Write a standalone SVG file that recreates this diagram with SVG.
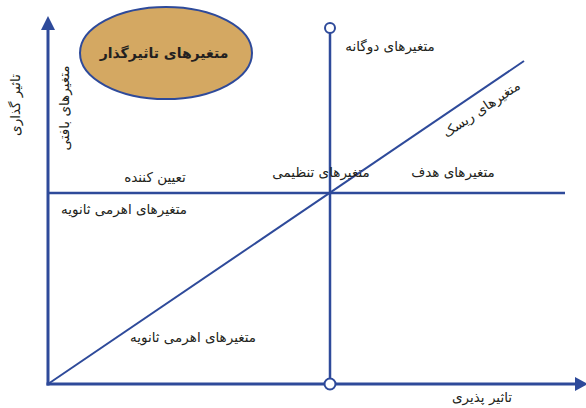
<svg xmlns="http://www.w3.org/2000/svg" width="586" height="408" viewBox="0 0 586 408">
<style>
.ax{stroke:#2E4A9A;stroke-width:3;fill:none}
.ln{stroke:#2E4A9A;stroke-width:2.5;fill:none}
.dg{stroke:#2E4A9A;stroke-width:2;fill:none}
.t{font-family:"DejaVu Sans",sans-serif;font-size:13.5px;fill:#231F20;text-anchor:middle}
.tb{font-family:"DejaVu Sans",sans-serif;font-size:14px;font-weight:bold;fill:#231F20;text-anchor:middle}
</style>
<rect width="586" height="408" fill="#ffffff"/>
<g id="connectors">
<line class="ax" x1="48" y1="28" x2="48" y2="385.5"/>
<polygon points="48,16 41,30 55,30" fill="#2E4A9A"/>
<line class="ax" x1="46.5" y1="384" x2="576" y2="384"/>
<polygon points="588,384 575,377 575,391" fill="#2E4A9A"/>
<line class="ln" x1="48" y1="193" x2="565" y2="193"/>
<line class="ln" x1="330" y1="33" x2="330" y2="379"/>
<line class="dg" x1="48" y1="384" x2="524" y2="61"/>
<circle cx="330" cy="28" r="5" fill="#ffffff" stroke="#2E4A9A" stroke-width="2"/>
<circle cx="330" cy="384" r="5.5" fill="#ffffff" stroke="#2E4A9A" stroke-width="2"/>
</g>
<g id="influential">
<ellipse cx="166" cy="53" rx="86" ry="46" fill="#D4A862" stroke="#2E4A9A" stroke-width="2"/>
<text class="tb" x="164" y="58">متغیرهای تاثیرگذار</text>
</g>
<g id="axis-y-label"><text class="t" transform="translate(20,105) rotate(-90)">تاثیر گذاری</text></g>
<g id="axis-x-label"><text class="t" x="482" y="402">تاثیر پذیری</text></g>
<g id="contextual"><text class="t" transform="translate(69,108) rotate(-90)">متغیرهای بافتی</text></g>
<g id="determinant"><text class="t" x="155" y="182">تعیین کننده</text></g>
<g id="regulatory"><text class="t" x="321" y="177">متغیرهای تنظیمی</text></g>
<g id="target"><text class="t" x="453" y="177">متغیرهای هدف</text></g>
<g id="dual"><text class="t" x="390" y="51">متغیرهای دوگانه</text></g>
<g id="risk"><text class="t" transform="translate(484,113) rotate(-34)">متغیرهای ریسک</text></g>
<g id="secondary-lever-1"><text class="t" x="124" y="214">متغیرهای اهرمی ثانویه</text></g>
<g id="secondary-lever-2"><text class="t" x="193" y="342">متغیرهای اهرمی ثانویه</text></g>
</svg>
